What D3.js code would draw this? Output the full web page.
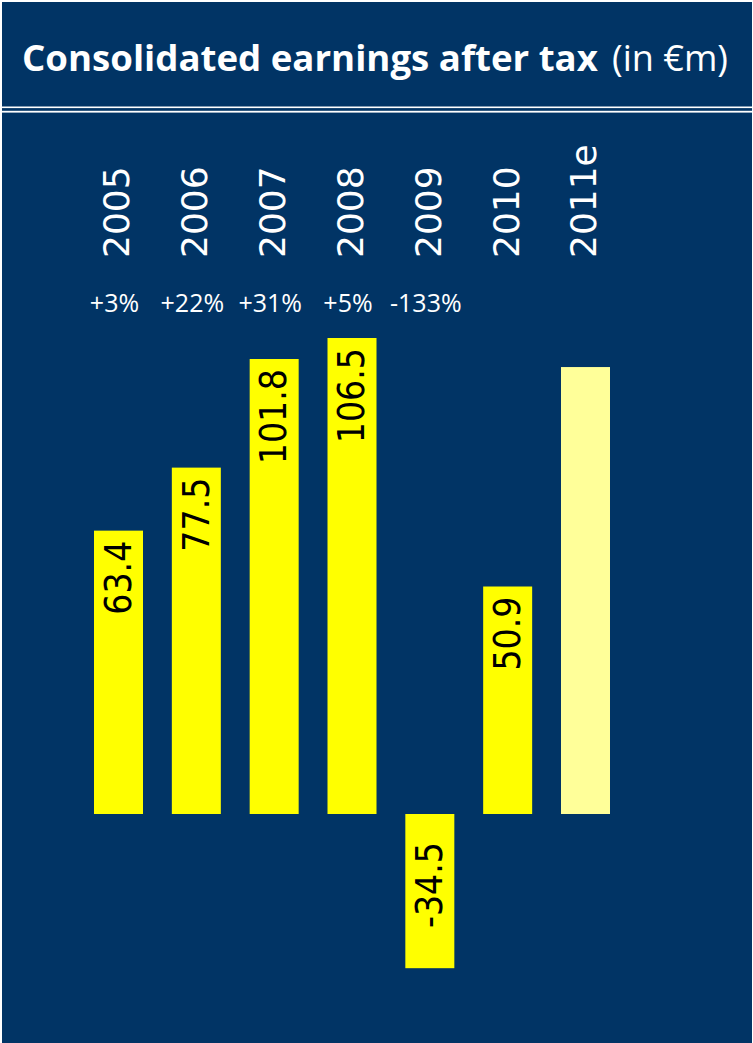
<!DOCTYPE html>
<html>
<head>
<meta charset="utf-8">
<script src="https://cdn.jsdelivr.net/npm/d3@7"></script>
<style>
  html, body { margin: 0; padding: 0; background: #ffffff; }
  svg { display: block; }
</style>
</head>
<body>
<script>
// Consolidated earnings after tax, in € million
const years   = ["2005", "2006", "2007", "2008", "2009", "2010", "2011e"];
const values  = [63.4, 77.5, 101.8, 106.5, -34.5, 50.9, 100];
const changes = ["+3%", "+22%", "+31%", "+5%", "-133%", "", ""];
const showValue = [true, true, true, true, true, true, false];
const estimate  = [false, false, false, false, false, false, true];

const W = 753, H = 1043;
const navy = "#013465";

const svg = d3.select("body").append("svg")
  .attr("width", W).attr("height", H);

// panel background with thin white frame
svg.append("rect").attr("x", 0).attr("y", 0).attr("width", W).attr("height", H).attr("fill", "#ffffff");
svg.append("rect").attr("x", 2).attr("y", 2).attr("width", W - 3).attr("height", H - 2).attr("fill", navy);

// title: main phrase and unit, each fitted to its width
const titleFont = "'Open Sans', 'Noto Sans', sans-serif";
function fitText(txt, x0, x1, baseSize, weight) {
  const t = svg.append("text")
    .attr("x", x0).attr("y", 71)
    .attr("fill", "#ffffff")
    .style("font-family", titleFont)
    .style("font-weight", weight)
    .style("font-size", baseSize + "px")
    .text(txt);
  const len = t.node().getComputedTextLength();
  t.style("font-size", (baseSize * (x1 - x0) / len) + "px");
  return t;
}
fitText("Consolidated earnings after tax", 22, 598, 34, 700);
fitText("(in €m)", 612, 728, 28, 400);

// double rule under the title
svg.append("rect").attr("x", 2).attr("y", 106.5).attr("width", W - 3).attr("height", 1.6).attr("fill", "#ffffff");
svg.append("rect").attr("x", 2).attr("y", 110.8).attr("width", W - 3).attr("height", 1.8).attr("fill", "#ffffff");

// scales
const x = d3.scalePoint().domain(years).range([118.5, 585.5]);
const barW = 49;
const zeroY = 814;
const k = 476 / 106.5;
const y = d3.scaleLinear().domain([-40, 110]).range([zeroY + 40 * k, zeroY - 110 * k]);

const data = years.map((yr, i) => ({
  year: yr, value: values[i], change: changes[i],
  showValue: showValue[i], estimate: estimate[i]
}));

// bars
svg.append("g").selectAll("rect").data(data).join("rect")
  .attr("x", d => x(d.year) - barW / 2)
  .attr("width", barW)
  .attr("y", d => y(Math.max(0, d.value)))
  .attr("height", d => Math.abs(y(d.value) - y(0)))
  .attr("fill", d => d.estimate ? "#ffff99" : "#ffff00");

// year labels, rotated
svg.append("g").selectAll("text").data(data).join("text")
  .attr("transform", d => `translate(${x(d.year) - 2},258) rotate(-90)`)
  .attr("dy", "0.36em")
  .attr("text-anchor", "start")
  .attr("fill", "#ffffff")
  .style("font-family", "'DejaVu Sans', sans-serif")
  .style("font-size", "36px")
  .text(d => d.year);

// year-on-year change
svg.append("g").selectAll("text").data(data.filter(d => d.change)).join("text")
  .attr("x", d => x(d.year) - 4)
  .attr("y", 312)
  .attr("text-anchor", "middle")
  .attr("fill", "#ffffff")
  .style("font-family", "'Open Sans', 'Noto Sans', sans-serif")
  .style("font-size", "25px")
  .text(d => d.change);

// value labels inside the bars
svg.append("g").selectAll("text").data(data.filter(d => d.showValue)).join("text")
  .attr("transform", d => {
    const yy = d.value >= 0 ? y(d.value) + 10 : y(0) + 28;
    return `translate(${x(d.year) - 1},${yy}) rotate(-90)`;
  })
  .attr("dy", "0.36em")
  .attr("text-anchor", "end")
  .attr("fill", "#000000")
  .style("font-family", "'DejaVu Sans Condensed', 'DejaVu Sans', sans-serif")
  .style("font-stretch", "condensed")
  .style("font-size", "37px")
  .text(d => d.value.toFixed(1));
</script>
</body>
</html>
